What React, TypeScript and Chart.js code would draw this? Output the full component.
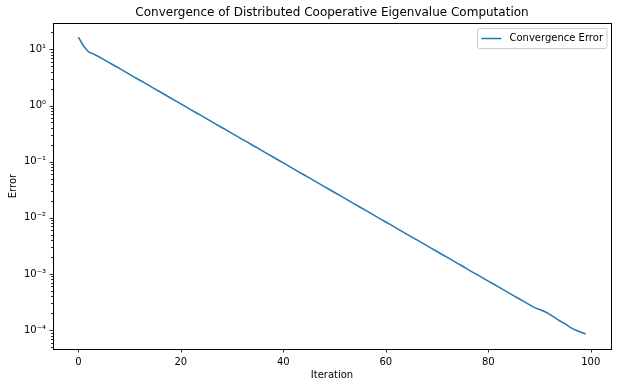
import React, { useEffect, useRef } from "react";
import { Chart, registerables } from "chart.js";

Chart.register(...registerables);

const chartTitle = "Convergence of Distributed Cooperative Eigenvalue Computation";
const seriesLabel = "Convergence Error";
const xAxisLabel = "Iteration";
const yAxisLabel = "Error";

const errors = [
  16.6, 11.5, 9.02, 8.22, 7.38, 6.58, 5.83, 5.16, 4.57, 4.05,
  3.59, 3.18, 2.82, 2.5, 2.21, 1.96, 1.74, 1.54, 1.36, 1.21,
  1.07, 0.947, 0.839, 0.743, 0.659, 0.583, 0.517, 0.458, 0.406, 0.36,
  0.318, 0.282, 0.25, 0.222, 0.196, 0.174, 0.154, 0.136, 0.121, 0.107,
  0.0949, 0.0841, 0.0744, 0.0659, 0.0584, 0.0518, 0.0459, 0.0406, 0.036, 0.0319,
  0.0282, 0.025, 0.0222, 0.0196, 0.0174, 0.0154, 0.0137, 0.0121, 0.0107, 0.0095,
  0.00841, 0.00746, 0.0066, 0.00585, 0.00518, 0.00459, 0.00407, 0.0036, 0.00319, 0.00283,
  0.00251, 0.00222, 0.00197, 0.00174, 0.00154, 0.00137, 0.00121, 0.00107, 0.000951, 0.000843,
  0.000746, 0.000661, 0.000586, 0.000519, 0.00046, 0.000407, 0.000361, 0.00032, 0.000283, 0.000251,
  0.000232, 0.000214, 0.000191, 0.000166, 0.000145, 0.000129, 0.000112, 0.0001, 0.0000923, 0.0000851,
];
const iterations = errors.map((_, i) => i);

const xTicks = [0, 20, 40, 60, 80, 100];
const yMajorTicks = [10, 1, 0.1, 0.01, 0.001, 0.0001];
const yTickLabels = ["10\u00B9", "10\u2070", "10\u207B\u00B9", "10\u207B\u00B2", "10\u207B\u00B3", "10\u207B\u2074"];

const X_MIN = -4.95;
const X_MAX = 103.95;
const Y_MIN = 4.6e-5;
const Y_MAX = 29.5;

const FONT = "'DejaVu Sans', sans-serif";
const LINE_COLOR = "#1f77b4";

function majorIndex(v: number): number {
  for (let i = 0; i < yMajorTicks.length; i++) {
    if (Math.abs(Math.log10(v) - Math.log10(yMajorTicks[i])) < 1e-6) return i;
  }
  return -1;
}

const decorations = {
  id: "decorations",
  afterDraw(chart: any) {
    const { ctx, chartArea: a, scales } = chart;
    ctx.save();
    ctx.strokeStyle = "#000";
    ctx.lineWidth = 0.8;
    ctx.beginPath();
    const xs = scales.x;
    xs.ticks.forEach((t: any) => {
      const px = Math.round(xs.getPixelForValue(t.value)) + 0.5;
      ctx.moveTo(px, a.bottom);
      ctx.lineTo(px, a.bottom + 3.5);
    });
    const ys = scales.y;
    ys.ticks.forEach((t: any) => {
      const major = majorIndex(t.value) >= 0;
      const py = Math.round(ys.getPixelForValue(t.value)) + 0.5;
      ctx.moveTo(a.left - (major ? 3.5 : 2), py);
      ctx.lineTo(a.left, py);
    });
    ctx.stroke();

    // frame
    ctx.lineWidth = 1;
    ctx.strokeRect(Math.round(a.left) + 0.5, Math.round(a.top) + 0.5, Math.round(a.right - a.left), Math.round(a.bottom - a.top));

    // legend
    ctx.font = `10px ${FONT}`;
    const tw = ctx.measureText(seriesLabel).width;
    const boxW = 4 + 20 + 8 + tw + 4;
    const boxH = 20;
    const bx = Math.round(a.right - 5 - boxW) + 0.5;
    const by = Math.round(a.top + 5) + 0.5;
    ctx.fillStyle = "rgba(255,255,255,0.8)";
    ctx.strokeStyle = "#cccccc";
    ctx.lineWidth = 1;
    ctx.beginPath();
    const r = 2;
    ctx.moveTo(bx + r, by);
    ctx.lineTo(bx + boxW - r, by);
    ctx.arcTo(bx + boxW, by, bx + boxW, by + r, r);
    ctx.lineTo(bx + boxW, by + boxH - r);
    ctx.arcTo(bx + boxW, by + boxH, bx + boxW - r, by + boxH, r);
    ctx.lineTo(bx + r, by + boxH);
    ctx.arcTo(bx, by + boxH, bx, by + boxH - r, r);
    ctx.lineTo(bx, by + r);
    ctx.arcTo(bx, by, bx + r, by, r);
    ctx.closePath();
    ctx.fill();
    ctx.stroke();
    const cy = by + boxH / 2;
    ctx.strokeStyle = LINE_COLOR;
    ctx.lineWidth = 1.5;
    ctx.beginPath();
    ctx.moveTo(bx + 4, cy);
    ctx.lineTo(bx + 24, cy);
    ctx.stroke();
    ctx.fillStyle = "#000";
    ctx.textBaseline = "middle";
    ctx.textAlign = "left";
    ctx.fillText(seriesLabel, bx + 32, cy);
    ctx.restore();
  },
};

export default function App() {
  const ref = useRef<HTMLCanvasElement | null>(null);
  useEffect(() => {
    if (!ref.current) return;
    const chart = new Chart(ref.current, {
      type: "line",
      data: {
        datasets: [
          {
            label: seriesLabel,
            data: iterations.map((x, i) => ({ x, y: errors[i] })),
            borderColor: LINE_COLOR,
            backgroundColor: LINE_COLOR,
            borderWidth: 1.5,
            pointRadius: 0,
            tension: 0,
            fill: false,
          },
        ],
      },
      options: {
        responsive: false,
        animation: false,
        events: [],
        layout: { padding: { left: 0, right: 7, top: 0, bottom: 0 } },
        plugins: {
          legend: { display: false },
          tooltip: { enabled: false },
          title: {
            display: true,
            fullSize: false,
            text: chartTitle,
            color: "#000",
            font: { family: FONT, size: 12, weight: "normal" },
            padding: { top: 5.3, bottom: 3.3 },
          },
        },
        scales: {
          x: {
            type: "linear",
            min: X_MIN,
            max: X_MAX,
            afterBuildTicks: (scale: any) => {
              scale.ticks = xTicks.map((v) => ({ value: v }));
            },
            afterFit: (scale: any) => {
              scale.height = 38;
            },
            grid: { display: true, drawOnChartArea: false, drawTicks: true, tickLength: 3.5, color: "rgba(0,0,0,0)" },
            border: { display: false },
            ticks: {
              color: "#000",
              font: { family: FONT, size: 10 },
              padding: 3.5,
              maxRotation: 0,
              autoSkip: false,
              callback: (v: any) => String(v),
            },
            title: {
              display: true,
              text: xAxisLabel,
              color: "#000",
              font: { family: FONT, size: 10 },
              padding: { top: 0, bottom: 6 },
            },
          },
          y: {
            type: "logarithmic",
            min: Y_MIN,
            max: Y_MAX,
            afterBuildTicks: (scale: any) => {
              const ticks: any[] = [];
              for (let e = -5; e <= 1; e++) {
                for (let m = 1; m <= 9; m++) {
                  const v = m * Math.pow(10, e);
                  if (v >= Y_MIN && v <= Y_MAX) ticks.push({ value: v });
                }
              }
              scale.ticks = ticks;
            },
            afterFit: (scale: any) => {
              scale.width = 53;
            },
            grid: { display: true, drawOnChartArea: false, drawTicks: true, tickLength: 3.5, color: "rgba(0,0,0,0)" },
            border: { display: false },
            ticks: {
              color: "#000",
              font: { family: FONT, size: 10 },
              padding: 3.5,
              autoSkip: false,
              callback: (v: any) => {
                const idx = majorIndex(Number(v));
                return idx >= 0 ? yTickLabels[idx] : "";
              },
            },
            title: {
              display: true,
              text: yAxisLabel,
              color: "#000",
              font: { family: FONT, size: 10 },
              padding: { top: 7, bottom: 0 },
            },
          },
        },
      },
      plugins: [decorations],
    });
    return () => chart.destroy();
  }, []);

  return (
    <div style={{ position: "fixed", left: 0, top: 0, width: 618, height: 387, background: "#fff" }}>
      <canvas ref={ref} width={618} height={387} style={{ display: "block", width: 618, height: 387 }} />
    </div>
  );
}
